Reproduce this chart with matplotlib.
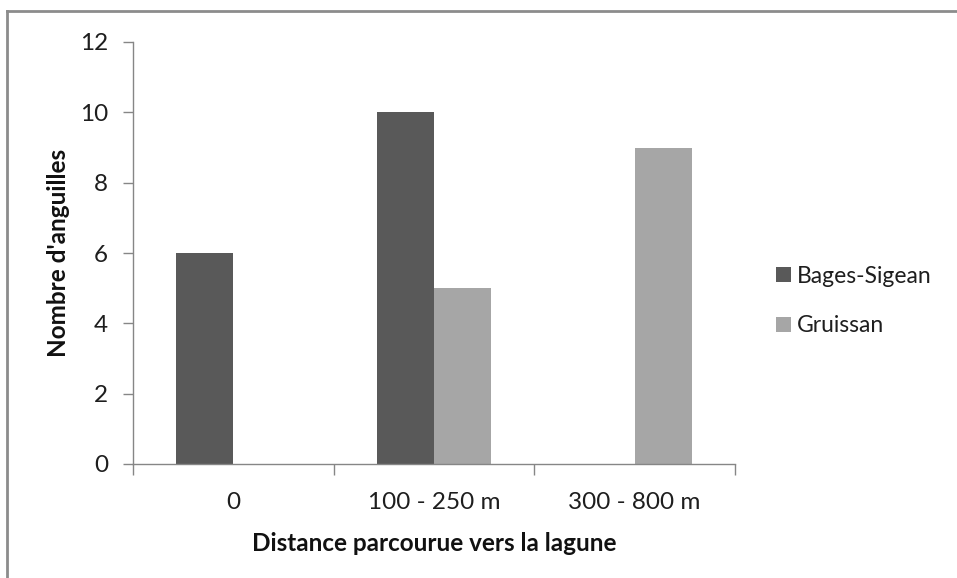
import matplotlib.pyplot as plt
from matplotlib.lines import Line2D
import numpy as np

categories = ["0", "100 - 250 m", "300 - 800 m"]
series_names = ["Bages-Sigean", "Gruissan"]
bages_sigean = [6, 10, 0]
gruissan = [0, 5, 9]
y_ticks = [0, 2, 4, 6, 8, 10, 12]

colors = ["#595959", "#a6a6a6"]
text_color = "#1e1e1e"
axis_color = "#868686"

plt.rcParams["font.family"] = ["Lato", "DejaVu Sans"]

W, H = 957, 578
fig = plt.figure(figsize=(W / 100, H / 100), dpi=100)

# axes box in pixel coordinates
left, right, top, bottom = 133, 735, 42, 464
ax = fig.add_axes([left / W, 1 - bottom / H, (right - left) / W, (bottom - top) / H])

x = np.arange(len(categories))
width = 0.284
ax.bar(x - width / 2, bages_sigean, width, color=colors[0], label=series_names[0])
ax.bar(x + width / 2, gruissan, width, color=colors[1], label=series_names[1])

ax.set_xlim(-0.5, len(categories) - 0.5)
ax.set_ylim(0, 12)
ax.set_yticks(y_ticks)
ax.set_yticklabels([str(v) for v in y_ticks])

# category boundaries carry the tick marks, labels sit at the centres
ax.set_xticks(np.arange(len(categories) + 1) - 0.5)
ax.set_xticklabels([])
ax.set_xticks(x, minor=True)
ax.set_xticklabels(categories, minor=True)
ax.tick_params(axis="x", which="major", length=8, width=1, color=axis_color, direction="out")
ax.tick_params(axis="x", which="minor", length=0, pad=20, labelsize=17.5, labelcolor=text_color)
ax.tick_params(axis="y", length=7, width=1, color=axis_color, direction="out",
               pad=11, labelsize=17.5, labelcolor=text_color)

for side in ["top", "right"]:
    ax.spines[side].set_visible(False)
for side in ["left", "bottom"]:
    ax.spines[side].set_color(axis_color)
    ax.spines[side].set_linewidth(1)

ax.set_xlabel("Distance parcourue vers la lagune", fontsize=17.5, fontweight="bold",
              color="#111111", labelpad=14)
ax.set_ylabel("Nombre d'anguilles", fontsize=17.5, fontweight="bold",
              color="#111111", labelpad=7)

leg = fig.legend(loc="center left", bbox_to_anchor=(776 / W, 1 - 301 / H),
                 frameon=False, fontsize=16.5, handlelength=0.65, handleheight=0.65,
                 handletextpad=0.25, labelspacing=1.25, borderpad=0, borderaxespad=0)
for t in leg.get_texts():
    t.set_color(text_color)

# outer frame of the chart area
fig.add_artist(Line2D([7 / W, 7 / W], [0, 1 - 11 / H], transform=fig.transFigure,
                      color="#8c8c8c", linewidth=2))
fig.add_artist(Line2D([7 / W, 1], [1 - 11 / H, 1 - 11 / H], transform=fig.transFigure,
                      color="#8c8c8c", linewidth=2))

fig.savefig("out.png", dpi=100)
